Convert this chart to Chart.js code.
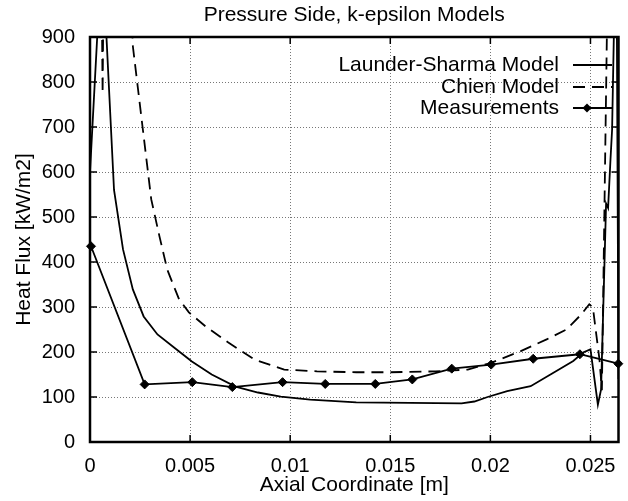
<!DOCTYPE html>
<html>
<head>
<meta charset="utf-8">
<script src="https://cdn.jsdelivr.net/npm/chart.js@4.4.1/dist/chart.umd.min.js"></script>
<style>
  body { margin: 0; background: #fff; }
  canvas { display: block; }
</style>
</head>
<body>
<canvas id="heatChart" width="628" height="501"></canvas>
<script>
// values
const lsX = [0, 0.0006, 0.0012, 0.00165, 0.00214, 0.00268, 0.00337, 0.00431, 0.00509, 0.00608,
             0.00727, 0.00839, 0.00953, 0.0110, 0.0133, 0.0160, 0.01856, 0.0192, 0.01986, 0.02084,
             0.02201, 0.02315, 0.02414, 0.02463, 0.0250, 0.02537, 0.02553, 0.02578, 0.02588, 0.0260,
             0.02608, 0.02625, 0.0263, 0.0264];
const lsY = [600, 1100, 560, 428, 339, 279, 239, 206, 179, 150,
             123, 110, 101, 94, 88, 87, 86, 90, 100, 113,
             124, 154, 180, 199, 206, 83, 117, 530, 520, 628,
             694, 1100, 1100, 140];

const chienX = [0.0005, 0.00063, 0.00075, 0.0018, 0.00214, 0.00306, 0.00347, 0.00386, 0.00445, 0.00494,
                0.00577, 0.00691, 0.00823, 0.0097, 0.01134, 0.0133, 0.0150, 0.01725, 0.01887, 0.02004,
                0.02152, 0.02281, 0.0238, 0.02453, 0.02494, 0.02512, 0.02545, 0.02557, 0.02585];
const chienY = [1400, 775, 1400, 1400, 880, 539, 457, 383, 317, 288,
                257, 221, 183, 161, 157, 155, 155, 157, 161, 176,
                202, 228, 250, 283, 306, 299, 183, 115, 1000];

const measX = [0.00005, 0.00273, 0.00511, 0.00711, 0.00962, 0.01175, 0.01425, 0.0161, 0.01807, 0.02004,
               0.02214, 0.02447, 0.02639];
const measY = [435, 128, 133, 122, 133, 129, 129, 139, 163, 172, 185, 195, 174];

const xTicks = [0, 0.005, 0.01, 0.015, 0.02, 0.025];
const yTicks = [0, 100, 200, 300, 400, 500, 600, 700, 800, 900];

function pairs(xs, ys) {
    return xs.map((x, i) => ({ x: x, y: ys[i] }));
}

const FONT = '"Liberation Sans", Arial, sans-serif';
Chart.defaults.font.family = FONT;
Chart.defaults.font.size = 20;
Chart.defaults.color = '#000';

// gnuplot-like frame with inward ticks and key
const framePlugin = {
    id: 'frame',
    afterDatasetsDraw(chart) {
        const ctx = chart.ctx;
        const a = chart.chartArea;
        const xs = chart.scales.x, ys = chart.scales.y;
        ctx.save();
        ctx.strokeStyle = '#000';
        ctx.lineWidth = 1.5;
        ctx.beginPath();
        xTicks.forEach(v => {
            const px = xs.getPixelForValue(v);
            ctx.moveTo(px, a.bottom); ctx.lineTo(px, a.bottom - 7);
            ctx.moveTo(px, a.top); ctx.lineTo(px, a.top + 7);
        });
        yTicks.forEach(v => {
            const py = ys.getPixelForValue(v);
            ctx.moveTo(a.left, py); ctx.lineTo(a.left + 7, py);
            ctx.moveTo(a.right, py); ctx.lineTo(a.right - 7, py);
        });
        ctx.stroke();
        ctx.lineWidth = 2.5;
        ctx.strokeRect(a.left, a.top, a.right - a.left, a.bottom - a.top);

        // key
        const textRight = 559, s0 = 573, s1 = 612;
        const rows = [65, 87, 108];
        ctx.font = '21px ' + FONT;
        ctx.fillStyle = '#000';
        ctx.textAlign = 'right';
        ctx.textBaseline = 'middle';
        chart.data.datasets.forEach((ds, i) => {
            const y = rows[i];
            ctx.fillText(ds.label, textRight, y);
            ctx.lineWidth = ds.borderWidth;
            ctx.setLineDash(ds.borderDash || []);
            ctx.beginPath();
            ctx.moveTo(s0, y); ctx.lineTo(s1, y);
            ctx.stroke();
            ctx.setLineDash([]);
            if (ds.pointStyle === 'rectRot') {
                const r = 4.5;
                ctx.beginPath();
                ctx.moveTo(587, y - r); ctx.lineTo(587 + r, y);
                ctx.lineTo(587, y + r); ctx.lineTo(587 - r, y);
                ctx.closePath();
                ctx.fill();
            }
        });
        ctx.restore();
    }
};

new Chart(document.getElementById('heatChart'), {
    type: 'line',
    data: {
        datasets: [
            {
                label: 'Launder-Sharma Model',
                data: pairs(lsX, lsY),
                borderColor: '#000',
                borderWidth: 1.8,
                pointRadius: 0,
                tension: 0,
                clip: 0
            },
            {
                label: 'Chien Model',
                data: pairs(chienX, chienY),
                borderColor: '#000',
                borderWidth: 1.8,
                borderDash: [12, 7],
                pointRadius: 0,
                tension: 0,
                clip: 0
            },
            {
                label: 'Measurements',
                data: pairs(measX, measY),
                borderColor: '#000',
                backgroundColor: '#000',
                borderWidth: 1.8,
                pointStyle: 'rectRot',
                pointRadius: 4.5,
                pointBorderWidth: 1,
                tension: 0,
                clip: { left: 8, right: 8, top: 0, bottom: 0 }
            }
        ]
    },
    options: {
        responsive: false,
        animation: false,
        events: [],
        layout: { padding: { right: 1 } },
        plugins: {
            legend: { display: false },
            tooltip: { enabled: false },
            title: {
                display: true,
                fullSize: false,
                text: 'Pressure Side, k-epsilon Models',
                font: { size: 21, weight: 'normal' },
                padding: { top: 3, bottom: 8.8 }
            }
        },
        scales: {
            x: {
                type: 'linear',
                min: 0,
                max: 0.0264,
                afterBuildTicks: scale => { scale.ticks = xTicks.map(v => ({ value: v })); },
                afterFit: scale => { scale.height = 59; },
                ticks: { padding: 12, callback: v => String(v) },
                grid: { color: '#777', drawTicks: false },
                border: { display: false, dash: [1, 2] },
                title: { display: true, text: 'Axial Coordinate [m]', font: { size: 21 }, padding: { top: 0, bottom: 3 } }
            },
            y: {
                min: 0,
                max: 900,
                afterBuildTicks: scale => { scale.ticks = yTicks.map(v => ({ value: v })); },
                afterFit: scale => { scale.width = 90; },
                ticks: { padding: 15 },
                grid: { color: '#777', drawTicks: false },
                border: { display: false, dash: [1, 2] },
                title: { display: true, text: 'Heat Flux [kW/m2]', font: { size: 21 }, padding: { top: 12, bottom: 0 } }
            }
        }
    },
    plugins: [framePlugin]
});
</script>
</body>
</html>
